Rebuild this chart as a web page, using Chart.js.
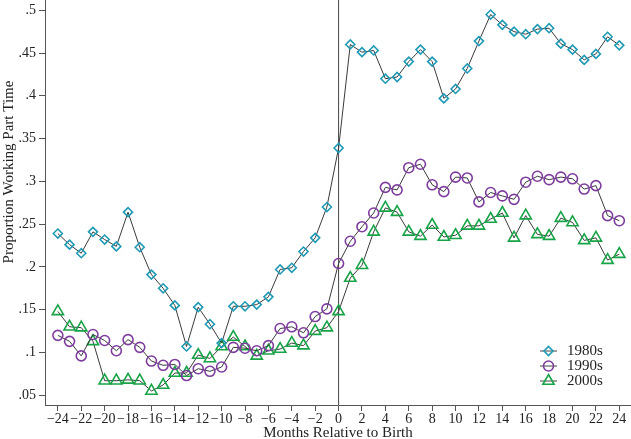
<!DOCTYPE html>
<html lang="en">
<head>
    <meta charset="UTF-8">
    <title>Proportion Working Part Time</title>
    <script src="https://cdn.jsdelivr.net/npm/chart.js"></script>
    <style>
        html, body { margin: 0; padding: 0; background: #fff; }
        #wrap { width: 631px; height: 439px; }
    </style>
</head>
<body>
    <div id="wrap"><canvas id="chart"></canvas></div>

    <script>
        // months relative to birth
        const months = [];
        for (let m = -24; m <= 24; m++) months.push(m);

        const xTicks = [-24, -22, -20, -18, -16, -14, -12, -10, -8, -6, -4, -2, 0, 2, 4, 6, 8, 10, 12, 14, 16, 18, 20, 22, 24];
        const yTicks = [0.05, 0.1, 0.15, 0.2, 0.25, 0.3, 0.35, 0.4, 0.45, 0.5];

        const s1980 = [0.239, 0.226, 0.216, 0.241, 0.232, 0.224, 0.264, 0.223, 0.191, 0.175, 0.155, 0.107,
            0.153, 0.133, 0.111, 0.154, 0.154, 0.156, 0.165, 0.197, 0.199, 0.218, 0.234, 0.270,
            0.339,
            0.460, 0.451, 0.453, 0.420, 0.422, 0.440, 0.454, 0.440, 0.397, 0.408, 0.432, 0.464,
            0.495, 0.483, 0.475, 0.472, 0.478, 0.479, 0.461, 0.454, 0.442, 0.449, 0.469, 0.459];

        const s1990 = [0.120, 0.113, 0.096, 0.121, 0.114, 0.102, 0.115, 0.106, 0.090, 0.085, 0.086, 0.073,
            0.081, 0.078, 0.083, 0.106, 0.105, 0.102, 0.108, 0.128, 0.130, 0.123, 0.142, 0.151,
            0.204,
            0.230, 0.247, 0.263, 0.293, 0.290, 0.316, 0.320, 0.296, 0.288, 0.305, 0.304, 0.276,
            0.287, 0.283, 0.279, 0.299, 0.306, 0.302, 0.305, 0.303, 0.291, 0.295, 0.260, 0.254];

        const s2000 = [0.148, 0.130, 0.129, 0.113, 0.067, 0.067, 0.068, 0.067, 0.055, 0.062, 0.076, 0.076,
            0.097, 0.093, 0.107, 0.118, 0.107, 0.096, 0.102, 0.104, 0.111, 0.108, 0.125, 0.129,
            0.148,
            0.187, 0.202, 0.241, 0.269, 0.264, 0.241, 0.236, 0.249, 0.235, 0.237, 0.248, 0.248,
            0.256, 0.263, 0.234, 0.260, 0.238, 0.236, 0.257, 0.252, 0.231, 0.234, 0.208, 0.215];

        const FONT = "'Liberation Serif', 'Times New Roman', serif";
        const AXIS = '#555555';
        const TEXT = '#222222';

        function series(label, values, color, style, radius) {
            return {
                label: label,
                data: months.map((m, i) => ({ x: m, y: values[i] })),
                borderColor: '#3a3a3a',
                borderWidth: 1,
                pointStyle: style,
                pointRadius: radius,
                pointBorderColor: color,
                pointBackgroundColor: 'rgba(0,0,0,0)',
                pointBorderWidth: 1.6,
                fill: false,
                tension: 0,
                clip: false
            };
        }

        // vertical reference line at birth
        const birthLine = {
            id: 'birthLine',
            beforeDatasetsDraw(chart) {
                const ctx = chart.ctx;
                const x = chart.scales.x.getPixelForValue(0);
                ctx.save();
                ctx.strokeStyle = '#444';
                ctx.lineWidth = 1;
                ctx.beginPath();
                ctx.moveTo(x, chart.chartArea.top);
                ctx.lineTo(x, chart.chartArea.bottom);
                ctx.stroke();
                ctx.restore();
            }
        };

        // y title sits a bit above the middle of the axis, drawn by hand
        const yTitle = {
            id: 'yTitle',
            afterDraw(chart) {
                const ctx = chart.ctx;
                ctx.save();
                ctx.translate(9, 172);
                ctx.rotate(-Math.PI / 2);
                ctx.fillStyle = TEXT;
                ctx.font = '15px ' + FONT;
                ctx.textAlign = 'center';
                ctx.textBaseline = 'middle';
                ctx.fillText('Proportion Working Part Time', 0, 0);
                ctx.restore();
            }
        };

        // legend with the marker sitting on a short line
        const lineLegend = {
            id: 'lineLegend',
            afterDraw(chart) {
                const ctx = chart.ctx;
                const area = chart.chartArea;
                const x0 = area.right - 91;
                let y = area.bottom - 54;
                ctx.save();
                chart.data.datasets.forEach(ds => {
                    ctx.strokeStyle = '#444';
                    ctx.lineWidth = 1;
                    ctx.beginPath();
                    ctx.moveTo(x0, y);
                    ctx.lineTo(x0 + 17, y);
                    ctx.stroke();
                    ctx.strokeStyle = ds.pointBorderColor;
                    ctx.fillStyle = 'rgba(0,0,0,0)';
                    ctx.lineWidth = ds.pointBorderWidth;
                    Chart.helpers.drawPoint(ctx, {
                        pointStyle: ds.pointStyle,
                        radius: ds.pointRadius,
                        borderWidth: ds.pointBorderWidth,
                        rotation: 0
                    }, x0 + 8.5, y);
                    ctx.fillStyle = TEXT;
                    ctx.font = '15px ' + FONT;
                    ctx.textBaseline = 'middle';
                    ctx.fillText(ds.label, x0 + 27, y);
                    y += 15;
                });
                ctx.restore();
            }
        };

        const fmtY = v => v.toFixed(2).replace(/0+$/, '').replace(/^0/, '');

        new Chart(document.getElementById('chart'), {
            type: 'line',
            data: {
                datasets: [
                    series('1980s', s1980, '#1f9ab5', 'rectRot', 4.5),
                    series('1990s', s1990, '#7e3d9e', 'circle', 5),
                    series('2000s', s2000, '#17a347', 'triangle', 6.5)
                ]
            },
            options: {
                responsive: true,
                maintainAspectRatio: false,
                animation: false,
                layout: { padding: 0, autoPadding: false },
                plugins: {
                    legend: { display: false },
                    tooltip: { enabled: false }
                },
                scales: {
                    x: {
                        type: 'linear',
                        min: -25.1,
                        max: 25,
                        afterBuildTicks: s => { s.ticks = xTicks.map(v => ({ value: v })); },
                        afterFit: s => { s.height = 34; s.paddingLeft = 0; s.paddingRight = 0; },
                        grid: { drawOnChartArea: false, color: AXIS, tickLength: 6 },
                        border: { color: AXIS, width: 1 },
                        ticks: {
                            color: TEXT,
                            font: { family: FONT, size: 14, lineHeight: 1 },
                            padding: 1,
                            maxRotation: 0,
                            autoSkip: false,
                            callback: v => (v < 0 ? '\u2212' + Math.abs(v) : String(v))
                        },
                        title: {
                            display: true,
                            text: 'Months Relative to Birth',
                            color: TEXT,
                            font: { family: FONT, size: 15, lineHeight: 1 },
                            padding: { top: 0, bottom: -2 }
                        }
                    },
                    y: {
                        min: 0.0386,
                        max: 0.512,
                        afterBuildTicks: s => { s.ticks = yTicks.map(v => ({ value: v })); },
                        afterFit: s => { s.width = 45; s.paddingTop = 0; s.paddingBottom = 0; },
                        grid: { drawOnChartArea: false, color: AXIS, tickLength: 6 },
                        border: { color: AXIS, width: 1 },
                        ticks: {
                            color: TEXT,
                            font: { family: FONT, size: 14 },
                            padding: 3,
                            callback: v => fmtY(v)
                        }
                    }
                }
            },
            plugins: [birthLine, yTitle, lineLegend]
        });
    </script>
</body>
</html>
